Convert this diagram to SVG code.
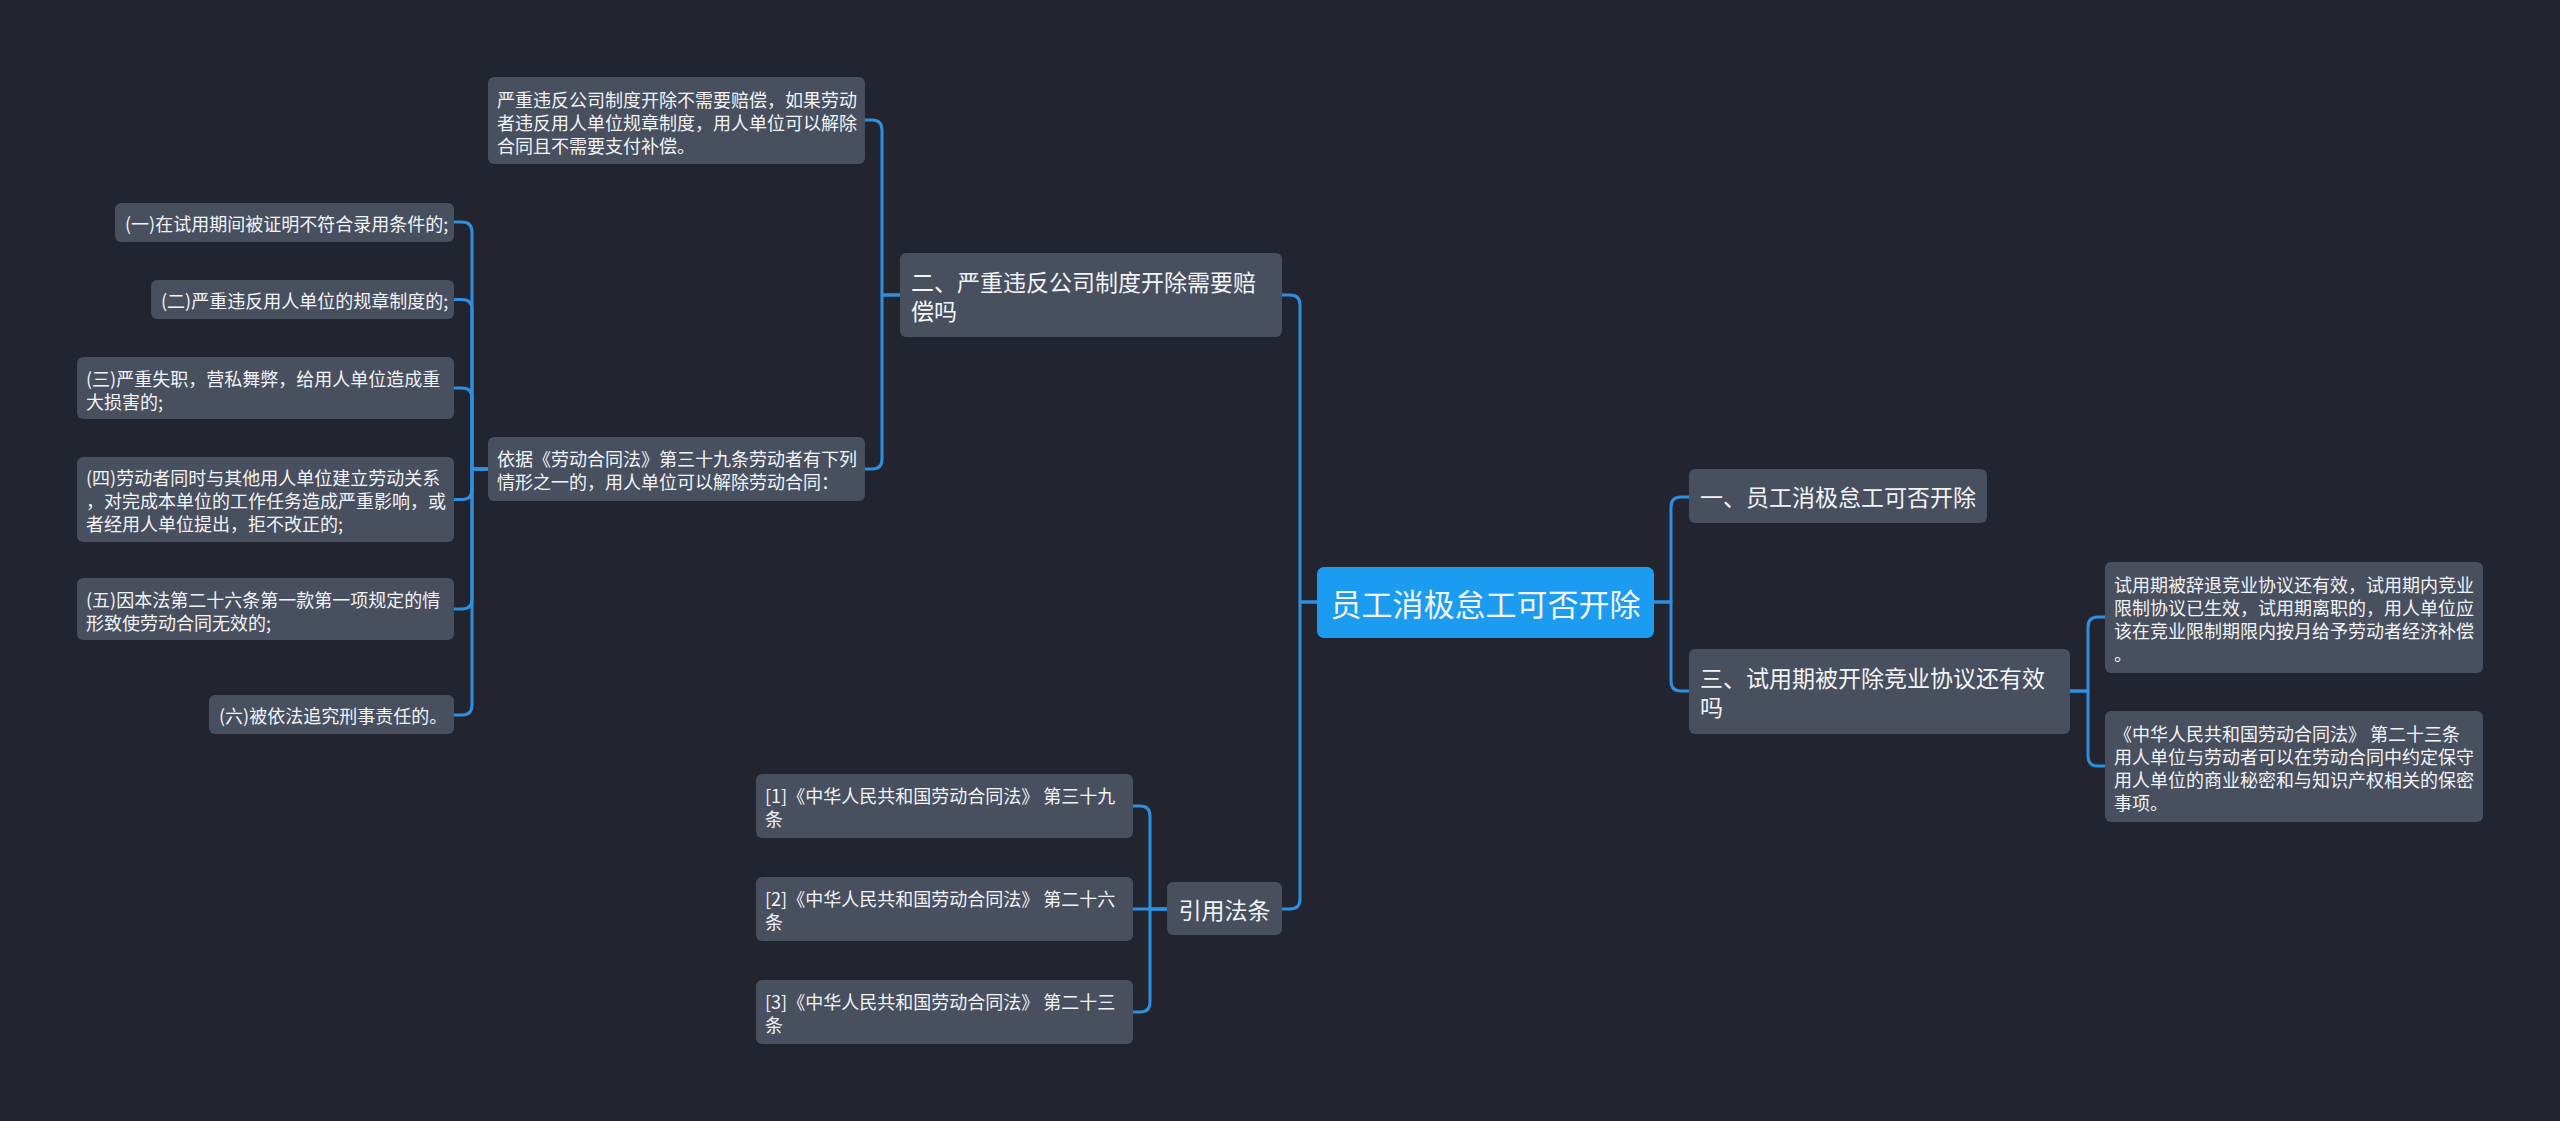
<svg xmlns="http://www.w3.org/2000/svg" width="2560" height="1121" viewBox="0 0 2560 1121">
<style>
.bg{fill:#22252f}
.n{fill:#484f5e}
.root{fill:#1b9cf0}
.t{font-family:"Noto Sans CJK SC","Noto Sans",sans-serif;fill:#f2f4f7;dominant-baseline:central}
.s18{font-size:18px}
.s23{font-size:23px}
.s31{font-size:31px}
.c{fill:none;stroke:#2e8fe0;stroke-width:3;stroke-linecap:round;stroke-linejoin:round}
</style>
<rect class="bg" x="0" y="0" width="2560" height="1121"/>
<g id="connectors">
<path class="c" d="M1654 602 H1671 V507 Q1671 497 1681 497 H1689"/>
<path class="c" d="M1654 602 H1671 V681 Q1671 691 1681 691 H1689"/>
<path class="c" d="M1317 602 H1300 V305 Q1300 295 1290 295 H1282"/>
<path class="c" d="M1317 602 H1300 V899 Q1300 909 1290 909 H1282"/>
<path class="c" d="M900 295 H882 V130 Q882 120 872 120 H865"/>
<path class="c" d="M900 295 H882 V459 Q882 469 872 469 H865"/>
<path class="c" d="M488 469 H472 V232 Q472 222 462 222 H454"/>
<path class="c" d="M488 469 H472 V309.5 Q472 299.5 462 299.5 H454"/>
<path class="c" d="M488 469 H472 V398 Q472 388 462 388 H454"/>
<path class="c" d="M488 469 H472 V489.5 Q472 499.5 462 499.5 H454"/>
<path class="c" d="M488 469 H472 V599 Q472 609 462 609 H454"/>
<path class="c" d="M488 469 H472 V705 Q472 715 462 715 H454"/>
<path class="c" d="M1167 909 H1150 V816 Q1150 806 1140 806 H1133"/>
<path class="c" d="M1167 909 H1133"/>
<path class="c" d="M1167 909 H1150 V1002 Q1150 1012 1140 1012 H1133"/>
<path class="c" d="M2070 691 H2088 V627 Q2088 617 2098 617 H2105"/>
<path class="c" d="M2070 691 H2088 V756 Q2088 766 2098 766 H2105"/>
</g>
<g id="root">
<rect class="root" x="1317" y="567" width="337" height="71" rx="7"/>
<text class="t s31" x="1485.5" y="602" text-anchor="middle">员工消极怠工可否开除</text>
</g>
<g id="n-yi">
<rect class="n" x="1689" y="469" width="298" height="54" rx="6"/>
<text class="t s23" x="1700" y="496">一、员工消极怠工可否开除</text>
</g>
<g id="n-san">
<rect class="n" x="1689" y="649" width="381" height="85" rx="6"/>
<text class="t s23" x="1700" y="677">三、试用期被开除竞业协议还有效</text>
<text class="t s23" x="1700" y="706">吗</text>
</g>
<g id="n-er">
<rect class="n" x="900" y="253" width="382" height="84" rx="6"/>
<text class="t s23" x="911" y="281">二、严重违反公司制度开除需要赔</text>
<text class="t s23" x="911" y="310">偿吗</text>
</g>
<g id="n-yinyong">
<rect class="n" x="1167" y="882" width="115" height="53" rx="6"/>
<text class="t s23" x="1224.5" y="908.5" text-anchor="middle">引用法条</text>
</g>
<g id="n-yanzhong">
<rect class="n" x="488" y="77" width="377" height="87" rx="6"/>
<text class="t s18" x="497" y="98.5">严重违反公司制度开除不需要赔偿，如果劳动</text>
<text class="t s18" x="497" y="121.5">者违反用人单位规章制度，用人单位可以解除</text>
<text class="t s18" x="497" y="144.5">合同且不需要支付补偿。</text>
</g>
<g id="n-yiju">
<rect class="n" x="488" y="437" width="377" height="64" rx="6"/>
<text class="t s18" x="497" y="458">依据《劳动合同法》第三十九条劳动者有下列</text>
<text class="t s18" x="497" y="481">情形之一的，用人单位可以解除劳动合同：</text>
</g>
<g id="n-l1">
<rect class="n" x="115" y="203" width="339" height="39" rx="6"/>
<text class="t s18" x="125" y="222.5">(一)在试用期间被证明不符合录用条件的;</text>
</g>
<g id="n-l2">
<rect class="n" x="151" y="280" width="303" height="39" rx="6"/>
<text class="t s18" x="161" y="299.5">(二)严重违反用人单位的规章制度的;</text>
</g>
<g id="n-l3">
<rect class="n" x="77" y="357" width="377" height="62" rx="6"/>
<text class="t s18" x="86" y="377.5">(三)严重失职，营私舞弊，给用人单位造成重</text>
<text class="t s18" x="86" y="400.5">大损害的;</text>
</g>
<g id="n-l4">
<rect class="n" x="77" y="457" width="377" height="85" rx="6"/>
<text class="t s18" x="86" y="477">(四)劳动者同时与其他用人单位建立劳动关系</text>
<text class="t s18" x="86" y="500">，对完成本单位的工作任务造成严重影响，或</text>
<text class="t s18" x="86" y="523">者经用人单位提出，拒不改正的;</text>
</g>
<g id="n-l5">
<rect class="n" x="77" y="578" width="377" height="62" rx="6"/>
<text class="t s18" x="86" y="598.5">(五)因本法第二十六条第一款第一项规定的情</text>
<text class="t s18" x="86" y="621.5">形致使劳动合同无效的;</text>
</g>
<g id="n-l6">
<rect class="n" x="209" y="695" width="245" height="39" rx="6"/>
<text class="t s18" x="219" y="714.5">(六)被依法追究刑事责任的。</text>
</g>
<g id="n-c1">
<rect class="n" x="756" y="774" width="377" height="64" rx="6"/>
<text class="t s18" x="765" y="795">[1]《中华人民共和国劳动合同法》 第三十九</text>
<text class="t s18" x="765" y="818">条</text>
</g>
<g id="n-c2">
<rect class="n" x="756" y="877" width="377" height="64" rx="6"/>
<text class="t s18" x="765" y="898">[2]《中华人民共和国劳动合同法》 第二十六</text>
<text class="t s18" x="765" y="921">条</text>
</g>
<g id="n-c3">
<rect class="n" x="756" y="980" width="377" height="64" rx="6"/>
<text class="t s18" x="765" y="1001">[3]《中华人民共和国劳动合同法》 第二十三</text>
<text class="t s18" x="765" y="1024">条</text>
</g>
<g id="n-r1">
<rect class="n" x="2105" y="562" width="378" height="111" rx="6"/>
<text class="t s18" x="2114" y="584">试用期被辞退竞业协议还有效，试用期内竞业</text>
<text class="t s18" x="2114" y="607">限制协议已生效，试用期离职的，用人单位应</text>
<text class="t s18" x="2114" y="630">该在竞业限制期限内按月给予劳动者经济补偿</text>
<text class="t s18" x="2114" y="653">。</text>
</g>
<g id="n-r2">
<rect class="n" x="2105" y="711" width="378" height="111" rx="6"/>
<text class="t s18" x="2114" y="733">《中华人民共和国劳动合同法》 第二十三条</text>
<text class="t s18" x="2114" y="756">用人单位与劳动者可以在劳动合同中约定保守</text>
<text class="t s18" x="2114" y="779">用人单位的商业秘密和与知识产权相关的保密</text>
<text class="t s18" x="2114" y="802">事项。</text>
</g>
</svg>
